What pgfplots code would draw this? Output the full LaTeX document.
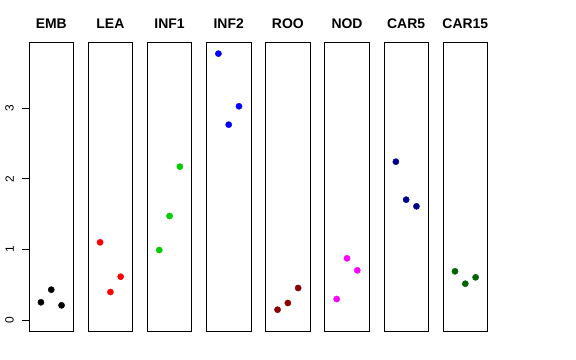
\documentclass[border=0pt]{standalone}
\usepackage{pgfplots}
\pgfplotsset{compat=1.18}
\usepackage{fontspec}
\setmainfont{Liberation Sans}
\definecolor{cgreen}{HTML}{00CD00}
\definecolor{cdarkred}{HTML}{8B0000}
\definecolor{cnavy}{HTML}{00008B}
\definecolor{cdarkgreen}{HTML}{006400}
\definecolor{cmagenta}{HTML}{FF00FF}
\definecolor{cblue}{HTML}{0000FF}
\definecolor{cred}{HTML}{FF0000}
\pgfplotsset{
  panel/.style={
    scale only axis, width=44.5bp, height=288.3bp,
    xmin=-0.16, xmax=4.16, ymin=-0.151, ymax=3.926,
    xtick=\empty, ytick=\empty,
    axis line style={black, line width=0.8bp},
    title style={font=\fontsize{14}{16}\selectfont\bfseries, anchor=base, yshift=8.4bp, inner sep=0pt},
    anchor=south west, clip=false,
  },
  pts/.style={only marks, mark=*, mark size=3.1bp, mark options={draw=#1, fill=#1}},
}
\begin{document}
\begin{tikzpicture}
\useasboundingbox (0,0) rectangle (576bp,360bp);
\begin{axis}[panel, at={(29bp,29bp)}, title={EMB},
  ytick={0,1,2,3}, ytick pos=left, tick align=outside, major tick length=7bp,
  tick style={black, line width=0.8bp},
  yticklabel style={rotate=90, anchor=south, inner sep=0pt, yshift=8bp, font=\fontsize{12}{13}\selectfont},
  /pgf/number format/assume math mode=true]
\addplot[pts=black] coordinates {(1,0.255) (2,0.433) (3,0.212)};
\end{axis}
\begin{axis}[panel, at={(88.15bp,29bp)}, title={LEA}]
\addplot[pts=cred] coordinates {(1,1.103) (2,0.400) (3,0.617)};
\end{axis}
\begin{axis}[panel, at={(147.3bp,29bp)}, title={INF1}]
\addplot[pts=cgreen] coordinates {(1,0.994) (2,1.475) (3,2.173)};
\end{axis}
\begin{axis}[panel, at={(206.45bp,29bp)}, title={INF2}]
\addplot[pts=cblue] coordinates {(1,3.771) (2,2.767) (3,3.027)};
\end{axis}
\begin{axis}[panel, at={(265.6bp,29bp)}, title={ROO}]
\addplot[pts=cdarkred] coordinates {(1,0.150) (2,0.245) (3,0.457)};
\end{axis}
\begin{axis}[panel, at={(324.75bp,29bp)}, title={NOD}]
\addplot[pts=cmagenta] coordinates {(1,0.301) (2,0.877) (3,0.707)};
\end{axis}
\begin{axis}[panel, at={(383.9bp,29bp)}, title={CAR5}]
\addplot[pts=cnavy] coordinates {(1,2.243) (2,1.706) (3,1.612)};
\end{axis}
\begin{axis}[panel, at={(443.05bp,29bp)}, title={CAR15}]
\addplot[pts=cdarkgreen] coordinates {(1,0.693) (2,0.518) (3,0.608)};
\end{axis}
\end{tikzpicture}
\end{document}
